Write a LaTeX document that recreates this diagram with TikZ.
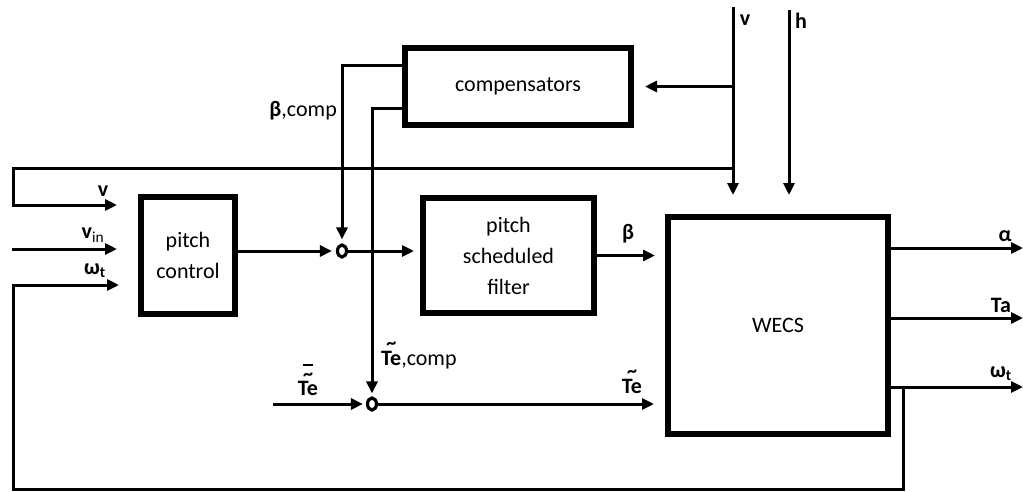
\documentclass[tikz,border=0pt]{standalone}
\usepackage{fontspec}
\setmainfont{Carlito}
\usetikzlibrary{arrows.meta,shapes.geometric}
\newcommand\tildeover[1]{\leavevmode\setbox0\hbox{#1}\rlap{\hbox to\wd0{\hss\raisebox{15.5pt}{\fontsize{20pt}{20pt}\selectfont\textasciitilde}\hss}}\box0}
\newcommand\bartildeover[1]{\leavevmode\setbox0\hbox{#1}\rlap{\hbox to\wd0{\hss\raisebox{15pt}{\fontsize{20pt}{20pt}\selectfont\textasciitilde}\hss}}\rlap{\hbox to\wd0{\hss\raisebox{29pt}{\rule{10pt}{2.5pt}}\hss}}\box0}
\tikzset{
 blk/.style={draw, line width=6pt, inner sep=0pt, align=center, font=\fontsize{22pt}{31pt}\selectfont},
 sig/.style={line width=3pt},
 arr/.style={sig, -{Triangle[length=12pt,width=11pt]}},
 sumj/.style={draw, ellipse, line width=3.2pt, inner sep=0pt, minimum width=9pt, minimum height=12pt},
 lbl/.style={inner sep=0pt, font=\fontsize{22pt}{22pt}\selectfont\bfseries},
}
\begin{document}
\begin{tikzpicture}[x=1pt,y=-1pt]
\useasboundingbox (0,0) rectangle (1023,491);
\node[blk, minimum width=226pt, minimum height=77pt] (comp) at (518,86.5) {compensators};
\node[blk, minimum width=94pt, minimum height=117pt] (pc) at (188,255.5) {pitch\\control};
\node[blk, minimum width=171pt, minimum height=115pt] (psf) at (508.5,255.5) {pitch\\scheduled\\filter};
\node[blk, minimum width=220pt, minimum height=217pt] (wecs) at (778,325.5) {WECS};
\node[sumj] (s1) at (342,251) {};
\node[sumj] (s2) at (372,404) {};
\coordinate (vtop) at (733,7);
\coordinate (htop) at (789,10);
\coordinate (fbTL) at (13,168);
\coordinate (fbBL) at (13,205);
\coordinate (vin) at (12,249);
\coordinate (wL) at (13,285);
\coordinate (wB) at (13,489);
\coordinate (wR) at (903,489);
\coordinate (bc) at (342,65);
\coordinate (tc) at (372,108);
\coordinate (tein) at (273,404);
\coordinate (oa) at (1023,248);
\coordinate (ot) at (1023,318);
\coordinate (ow) at (1023,387);
\draw[arr, shorten >=19pt] (vtop) -- (vtop |- wecs.north);
\draw[arr, shorten >=19pt] (htop) -- (htop |- wecs.north);
\draw[arr, shorten >=11pt] (vtop |- comp.east) -- (comp.east);
\draw[arr, shorten >=21pt] (vtop |- fbTL) -- (fbTL) -- (fbBL) -- (fbBL -| pc.west);
\draw[arr, shorten >=21pt] (vin) -- (vin -| pc.west);
\draw[arr, shorten >=19pt] (wR |- ow) -- (wR) -- (wB) -- (wL) -- (wL -| pc.west);
\draw[arr, shorten >=4pt] (pc.east |- s1) -- (s1.west);
\draw[arr, shorten >=4pt] (bc -| comp.west) -- (bc) -- (s1.north);
\draw[arr, shorten >=6pt] (s1.east) -- (s1 -| psf.west);
\draw[arr, shorten >=3pt] (tc -| comp.west) -- (tc) -- (s2.north);
\draw[arr, shorten >=3pt] (tein) -- (s2.west);
\draw[arr, shorten >=11pt] (s2.east) -- (s2 -| wecs.west);
\draw[arr, shorten >=10pt] (psf.east) -- (psf.east -| wecs.west);
\draw[arr] (wecs.east |- oa) -- (oa);
\draw[arr] (wecs.east |- ot) -- (ot);
\draw[arr] (wecs.east |- ow) -- (ow);
\node[lbl] (lv) at (745,20) {v};
\node[lbl] (lh) at (801,21) {h};
\node[lbl, anchor=east] (lbc) at (337,111) {β\mdseries,comp};
\node[lbl] (lv2) at (103,191) {v};
\node[lbl] (lvin) at (93,235) {v\textsubscript{\mdseries in}};
\node[lbl] (lwt) at (95,271) {ω\textsubscript{t}};
\node[lbl] (lb) at (628,234) {β};
\node[lbl, anchor=base] (lte) at (632,393) {\tildeover{Te}};
\node[lbl] (la) at (1005,236) {α};
\node[lbl] (lta) at (1001,305) {Ta};
\node[lbl] (lwo) at (1001,374) {ω\textsubscript{t}};
\node[lbl, anchor=base west] (ltec) at (381,365) {\tildeover{Te}\mdseries,comp};
\node[lbl, anchor=base] (lteb) at (308,395) {\bartildeover{Te}};
\end{tikzpicture}
\end{document}
